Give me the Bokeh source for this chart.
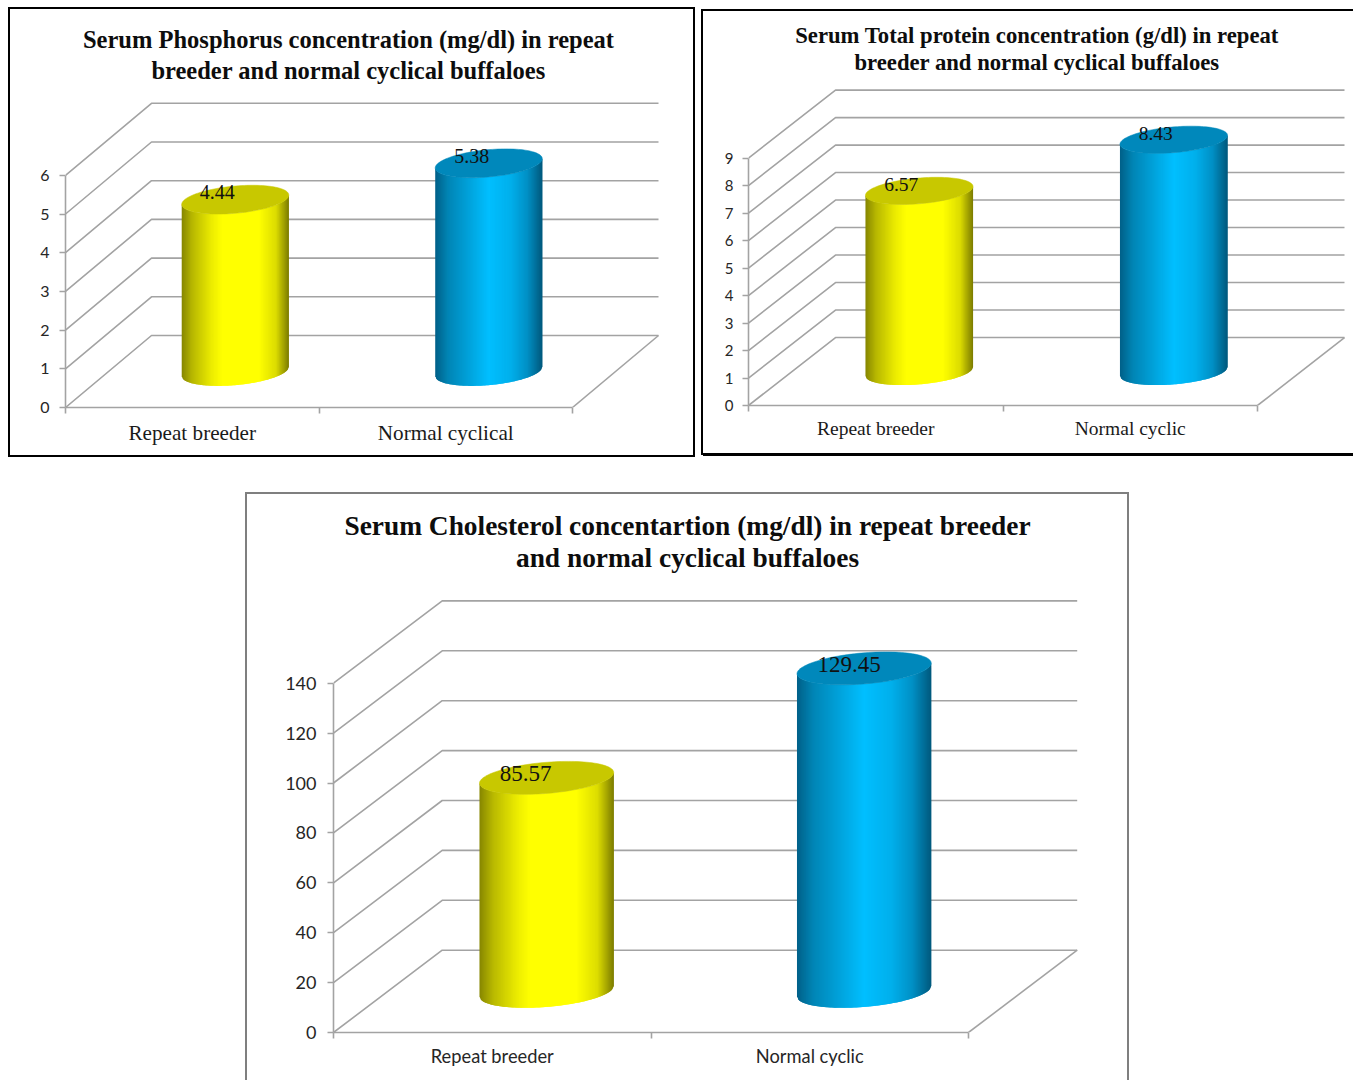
import numpy as np
from bokeh.core.properties import value
from bokeh.embed import file_html
from bokeh.layouts import column, row
from bokeh.models import ColumnDataSource, FixedTicker, Label, Range1d
from bokeh.plotting import figure
from bokeh.resources import INLINE

# Serum values for each chart
phosphorus_categories = ["Repeat breeder", "Normal cyclical"]
phosphorus_values = [4.44, 5.38]
phosphorus_ticks = [0, 1, 2, 3, 4, 5, 6]
phosphorus_title = ["Serum Phosphorus concentration (mg/dl) in repeat",
                    "breeder and normal cyclical buffaloes"]

protein_categories = ["Repeat breeder", "Normal cyclic"]
protein_values = [6.57, 8.43]
protein_ticks = [0, 1, 2, 3, 4, 5, 6, 7, 8, 9]
protein_title = ["Serum Total protein concentration (g/dl) in repeat",
                 "breeder and normal cyclical buffaloes"]

cholesterol_categories = ["Repeat breeder", "Normal cyclic"]
cholesterol_values = [85.57, 129.45]
cholesterol_ticks = [0, 20, 40, 60, 80, 100, 120, 140]
cholesterol_title = ["Serum Cholesterol concentartion (mg/dl) in repeat breeder",
                     "and normal cyclical buffaloes"]

GRID = "#a3a3a3"
SERIF = "Liberation Serif"
SANS = "Lato"

# (fraction across the visible side, colour) for the cylinder shading
YELLOW_STOPS = [(0, (0x86, 0x86, 0)), (.10, (0xB8, 0xB8, 0)), (.28, (0xEC, 0xEC, 0)),
                (.38, (0xFF, 0xFF, 0)), (.72, (0xFF, 0xFF, 0)), (.88, (0xDC, 0xDC, 0)),
                (1, (0x7C, 0x7C, 0))]
BLUE_STOPS = [(0, (0, 0x60, 0x88)), (.12, (0, 0x85, 0xB5)), (.30, (0, 0xA0, 0xD8)),
              (.50, (0, 0xBF, 0xFF)), (.70, (0, 0xB0, 0xEC)), (.86, (0, 0x90, 0xC5)),
              (1, (0, 0x58, 0x7C))]
TOP_COLOURS = ["#C8C800", "#0088BB"]


def shade(stops, u):
    xs = [s[0] for s in stops]
    return "#%02x%02x%02x" % tuple(
        int(round(np.interp(u, xs, [s[1][i] for s in stops]))) for i in range(3))


def draw_cylinder(p, cx, cy, height, rx, dx, dy, stops, top_colour):
    # Oblique projection of a circle: rx along the front edge, (dx, dy) along the depth.
    phi = np.arctan2(dx, rx)
    steps = 120
    edges = np.linspace(-1, 1, steps + 1)
    ts = phi + 2 * np.pi - np.arccos(edges)
    xs = cx + rx * np.cos(ts) + dx * np.sin(ts)
    ys = cy + dy * np.sin(ts)
    # Each strip reaches over the next one, so no seams show between neighbours
    strips_x, strips_y, colours = [], [], []
    for i in range(steps):
        j = min(i + 2, steps)
        strips_x.append([xs[i], xs[j], xs[j], xs[i]])
        strips_y.append([ys[i], ys[j], ys[j] + height, ys[i] + height])
        colours.append(shade(stops, (i + .5) / steps))
    p.patches(strips_x, strips_y, fill_color=colours, line_color=None)
    t = np.linspace(0, 2 * np.pi, 121)
    p.patch(cx + rx * np.cos(t) + dx * np.sin(t), cy + height + dy * np.sin(t),
            fill_color=top_colour, line_color=top_colour, line_width=0.5)


def make_panel(box, border_styles, origin, unit, depth, categories, values, ticks, title,
               title_center, title_rows, title_size, x_font, x_size, x_colour, x_standoff,
               y_size, y_standoff, label_size, label_dx, label_dy):
    left, top, right, bottom = box
    ox, oy = origin
    ux, uy = unit
    p = figure(width=right - left, height=bottom - top,
               x_range=Range1d(0, (right - ox) / ux), y_range=Range1d(0, (oy - top) / uy),
               output_backend="svg", toolbar_location=None,
               min_border_left=ox - left, min_border_bottom=bottom - oy,
               min_border_right=0, min_border_top=0, outline_line_color=None,
               background_fill_color="white", border_fill_color="white")
    p.grid.visible = False
    p.styles = border_styles

    wall_x = depth[0] / ux
    wall_y = depth[1] / uy
    n = len(categories)

    # Side wall and back wall rules, one per tick value, and the floor edges
    xs = [[0, wall_x, wall_x + n] for _ in ticks]
    ys = [[v, v + wall_y, v + wall_y] for v in ticks]
    p.multi_line(xs, ys, line_color=GRID, line_width=1.6)
    p.line([n, n + wall_x], [0, wall_y], line_color=GRID, line_width=1.6)

    # Cylinders stand halfway back on the floor
    rx = 0.2
    for i, v in enumerate(values):
        draw_cylinder(p, i + .5 + wall_x / 2, wall_y / 2, v, rx, 0.2 * wall_x, 0.2 * wall_y,
                      [YELLOW_STOPS, BLUE_STOPS][i], TOP_COLOURS[i])

    source = ColumnDataSource(dict(
        x=[i + .5 + wall_x / 2 for i in range(n)],
        y=[wall_y / 2 + v for v in values],
        text=[f"{v:.2f}" for v in values],
        dx=label_dx))
    p.text("x", "y", "text", source=source, text_align="center", text_baseline="middle",
           x_offset="dx", y_offset=label_dy, text_font=value(SERIF),
           text_font_size=f"{label_size}px", text_color="#111111")

    # Chart heading, two centred lines
    for line, row_y in zip(title, title_rows):
        p.add_layout(Label(x=(title_center - ox) / ux, y=(oy - row_y) / uy, text=line,
                           text_align="center", text_baseline="middle",
                           text_font=SERIF, text_font_style="bold",
                           text_font_size=f"{title_size}px", text_color="#0d0d0d"))

    xaxis = p.xaxis[0]
    xaxis.ticker = FixedTicker(ticks=[i + .5 for i in range(n)], minor_ticks=list(range(n + 1)))
    xaxis.major_label_overrides = {i + .5: c for i, c in enumerate(categories)}
    xaxis.bounds = (0, n)
    xaxis.major_tick_out = 0
    xaxis.major_tick_in = 0
    xaxis.minor_tick_out = 6
    xaxis.minor_tick_in = 0
    xaxis.minor_tick_line_color = GRID
    xaxis.minor_tick_line_width = 1.6
    xaxis.axis_line_color = GRID
    xaxis.axis_line_width = 1.6
    xaxis.major_label_standoff = x_standoff
    xaxis.major_label_text_font = x_font
    xaxis.major_label_text_font_size = f"{x_size}px"
    xaxis.major_label_text_color = x_colour

    yaxis = p.yaxis[0]
    yaxis.ticker = FixedTicker(ticks=ticks)
    yaxis.bounds = (0, ticks[-1])
    yaxis.major_tick_out = 6
    yaxis.major_tick_in = 0
    yaxis.minor_tick_out = 0
    yaxis.minor_tick_in = 0
    yaxis.major_tick_line_color = GRID
    yaxis.major_tick_line_width = 1.6
    yaxis.axis_line_color = GRID
    yaxis.axis_line_width = 1.6
    yaxis.major_label_standoff = y_standoff
    yaxis.major_label_text_font = SANS
    yaxis.major_label_text_font_size = f"{y_size}px"
    yaxis.major_label_text_color = "#262626"
    return p


p1 = make_panel(
    box=(10, 9, 693, 455),
    border_styles={"outline": "2px solid #000000", "margin": "9px 0 0 10px"},
    origin=(65, 407), unit=(253.5, 38.7), depth=(86, 72),
    categories=phosphorus_categories, values=phosphorus_values, ticks=phosphorus_ticks,
    title=phosphorus_title, title_center=348, title_rows=(38.5, 70), title_size=24.5,
    x_font=SERIF, x_size=21.2, x_colour="#1a1a1a", x_standoff=7,
    y_size=16, y_standoff=10, label_size=20, label_dx=[-18, -17], label_dy=-7.5)

p2 = make_panel(
    box=(703, 11, 1353, 453),
    border_styles={"outline": "2px solid #000000", "margin": "11px 0 0 10px",
                   "box-shadow": "0 3px 0 0 #000000"},
    origin=(748, 408), unit=(254.5, 27.7), depth=(87, 68.5),
    categories=protein_categories, values=protein_values, ticks=protein_ticks,
    title=protein_title, title_center=1036.5, title_rows=(35, 62), title_size=22.7,
    x_font=SERIF, x_size=19.5, x_colour="#1a1a1a", x_standoff=6,
    y_size=15, y_standoff=9, label_size=19.5, label_dx=[-18, -18], label_dy=-6)

p3 = make_panel(
    box=(247, 494, 1127, 1080),
    border_styles={"outline": "2px solid #7f7f7f", "margin": "39px 0 0 247px"},
    origin=(333, 1032), unit=(317.5, 2.495), depth=(108.7, 82.3),
    categories=cholesterol_categories, values=cholesterol_values, ticks=cholesterol_ticks,
    title=cholesterol_title, title_center=687, title_rows=(525, 557), title_size=27.4,
    x_font=SANS, x_size=18.3, x_colour="#262626", x_standoff=6,
    y_size=18, y_standoff=11, label_size=23, label_dx=[-21, -15], label_dy=-4)

page = column(row(p1, p2, spacing=0), p3, spacing=0)
open("out.html", "w").write(file_html(page, INLINE))
